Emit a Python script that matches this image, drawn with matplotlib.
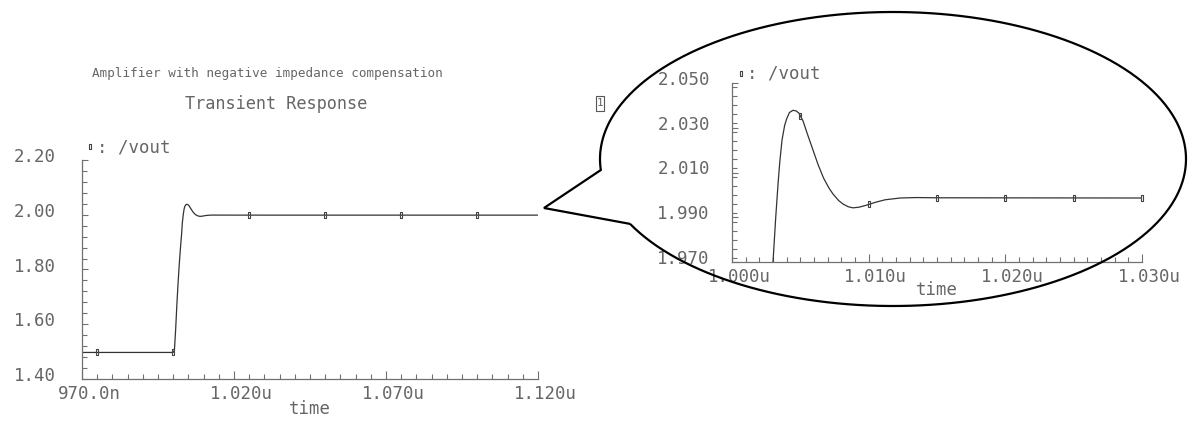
import numpy as np
import matplotlib
matplotlib.use('Agg')
import matplotlib.pyplot as plt
from matplotlib.path import Path
from matplotlib.patches import PathPatch, Rectangle
from matplotlib.transforms import ScaledTranslation
from matplotlib.ticker import MultipleLocator
from matplotlib.lines import Line2D

# ---------------- data (time in ns, vout in V) ----------------
time_ns = [970.0, 1000.0, 1000.4, 1000.8, 1001.2, 1001.6, 1002.0, 1002.4, 1002.8,
           1003.0, 1003.2, 1003.37, 1003.5, 1003.66, 1003.85, 1004.0, 1004.2, 1004.46,
           1004.7, 1004.9, 1005.2, 1005.5, 1005.9, 1006.3, 1006.7, 1007.1, 1007.4,
           1007.8, 1008.1, 1008.5, 1008.85, 1009.3, 1009.9, 1010.5, 1011.2, 1012.3,
           1013.5, 1015.0, 1030.0, 1120.0]
vout = [1.497, 1.497, 1.505, 1.58, 1.67, 1.75, 1.82, 1.88, 1.935,
        1.970, 1.990, 2.005, 2.015, 2.0245, 2.031, 2.034, 2.0368, 2.0378,
        2.0375, 2.0365, 2.033, 2.0275, 2.0205, 2.0135, 2.0075, 2.0030, 2.0003,
        1.9975, 1.9960, 1.9947, 1.9942, 1.9945, 1.9955, 1.9967, 1.9978, 1.9986,
        1.9988, 1.9987, 1.9986, 1.9986]

main_marker_t = [975, 1000, 1025, 1050, 1075, 1100]
zoom_marker_t = [1005, 1010, 1015, 1020, 1025, 1030]

main_xticks = [970, 1020, 1070, 1120]
main_xlabels = ['970.0n', '1.020u', '1.070u', '1.120u']
main_yticks = [1.40, 1.60, 1.80, 2.00, 2.20]
main_ylabels = ['1.40', '1.60', '1.80', '2.00', '2.20']

zoom_xticks = [1000, 1010, 1020, 1030]
zoom_xlabels = ['1.000u', '1.010u', '1.020u', '1.030u']
zoom_yticks = [1.970, 1.990, 2.010, 2.030, 2.050]
zoom_ylabels = ['1.970', '1.990', '2.010', '2.030', '2.050']

title_text = 'Amplifier with negative impedance compensation'
subtitle_text = 'Transient Response'
legend_text = ': /vout'
xlabel_text = 'time'

# ---------------- style ----------------
W, H = 1188, 422
FONT = 'DejaVu Sans Mono'
TXT = '#666666'
AXC = '#707070'
LINE = '#333333'
FS = 12.5

fig = plt.figure(figsize=(W / 100, H / 100), dpi=100)
fig.patch.set_facecolor('white')


def fx(x):
    return x / W


def fy(y):
    return 1 - y / H


box_marker = Path([(-0.4, -1), (0.4, -1), (0.4, 1), (-0.4, 1), (-0.4, -1)],
                  [Path.MOVETO, Path.LINETO, Path.LINETO, Path.LINETO, Path.CLOSEPOLY])


def style_axes(ax, xticks, xlabels, yticks, ylabels, xminor, yminor, xlim, ylim, ypad):
    ax.set_xlim(*xlim)
    ax.set_ylim(*ylim)
    for s in ('top', 'right'):
        ax.spines[s].set_visible(False)
    for s in ('left', 'bottom'):
        ax.spines[s].set_color(AXC)
        ax.spines[s].set_linewidth(0.9)
    ax.set_xticks(xticks)
    ax.set_xticklabels(xlabels, fontfamily=FONT, fontsize=FS, color=TXT)
    ax.set_yticks(yticks)
    ax.set_yticklabels(ylabels, fontfamily=FONT, fontsize=FS, color=TXT)
    ax.xaxis.set_minor_locator(MultipleLocator(xminor))
    ax.yaxis.set_minor_locator(MultipleLocator(yminor))
    ax.tick_params(axis='x', which='major', direction='in', length=6, width=0.8,
                   color=AXC, pad=4)
    ax.tick_params(axis='x', which='minor', direction='in', length=3.5, width=0.8,
                   color=AXC)
    ax.tick_params(axis='y', which='major', direction='in', length=4, width=0.8,
                   color=AXC, pad=ypad)
    ax.tick_params(axis='y', which='minor', direction='in', length=3.5, width=0.8,
                   color=AXC)
    for lab in ax.get_xticklabels():
        lab.set_transform(lab.get_transform() + ScaledTranslation(0.07, 0, fig.dpi_scale_trans))
    for lab in ax.get_yticklabels():
        lab.set_transform(lab.get_transform() + ScaledTranslation(0, 0.05, fig.dpi_scale_trans))
    ax.set_facecolor('none')


# ---------------- main plot ----------------
ax1 = fig.add_axes([fx(82), fy(379), 456 / W, 219 / H])
ax1.plot(time_ns, vout, color=LINE, lw=0.9)
ax1.plot(main_marker_t, np.interp(main_marker_t, time_ns, vout), ls='none',
         marker=box_marker, ms=4.2, mfc='none', mec='#444444', mew=0.8, clip_on=False)
style_axes(ax1, main_xticks, main_xlabels, main_yticks, main_ylabels,
           5, 0.04, (970, 1120), (1.40, 2.20), 19)

# ---------------- zoomed plot ----------------
ax2 = fig.add_axes([fx(732), fy(262), 410 / W, 179 / H])
ax2.plot(time_ns, vout, color=LINE, lw=0.9)
ax2.plot(zoom_marker_t, np.interp(zoom_marker_t, time_ns, vout), ls='none',
         marker=box_marker, ms=4.2, mfc='none', mec='#444444', mew=0.8, clip_on=False)
style_axes(ax2, zoom_xticks, zoom_xlabels, zoom_yticks, zoom_ylabels,
           1, 0.004, (1000, 1030), (1.970, 2.050), 16)

# ---------------- texts ----------------
fig.text(fx(267), fy(73), title_text, ha='center', va='center',
         fontfamily=FONT, fontsize=9.1, color=TXT)
fig.text(fx(276), fy(104), subtitle_text, ha='center', va='center',
         fontfamily=FONT, fontsize=12.2, color=TXT)
fig.text(fx(310), fy(409), xlabel_text, ha='center', va='center',
         fontfamily=FONT, fontsize=FS, color=TXT)
fig.text(fx(937), fy(290), xlabel_text, ha='center', va='center',
         fontfamily=FONT, fontsize=FS, color=TXT)

# legends
for (mx, my, tx) in [(90, 146, 97), (741, 73, 747)]:
    fig.add_artist(Line2D([fx(mx)], [fy(my)], transform=fig.transFigure,
                          marker=box_marker, ms=3.6, mfc='none', mec='#444444', mew=0.8))
    fig.text(fx(tx), fy(my + 1), legend_text, ha='left', va='center',
             fontfamily=FONT, fontsize=FS, color=TXT)

# small "1" box
fig.add_artist(Rectangle((fx(596), fy(111)), 8 / W, 15 / H, transform=fig.transFigure,
                         fill=False, ec='#555555', lw=0.8))
fig.text(fx(600), fy(103), '1', ha='center', va='center', fontfamily=FONT,
         fontsize=8, color=TXT)

# ---------------- callout ellipse ----------------
cx, cy, a, b = 893, 159, 293, 147
th = np.radians(np.linspace(206.2, 544.3, 500))
ex = cx + a * np.cos(th)
ey = cy - b * np.sin(th)
tip = (544, 208)
px_x = list(ex) + [tip[0], ex[0]]
px_y = list(ey) + [tip[1], ey[0]]
verts = [(fx(x), fy(y)) for x, y in zip(px_x, px_y)]
codes = [Path.MOVETO] + [Path.LINETO] * (len(verts) - 1)
fig.add_artist(PathPatch(Path(verts, codes), transform=fig.transFigure,
                         fill=False, ec='black', lw=1.6, zorder=5))

fig.savefig('out.png', dpi=100, facecolor='white')
